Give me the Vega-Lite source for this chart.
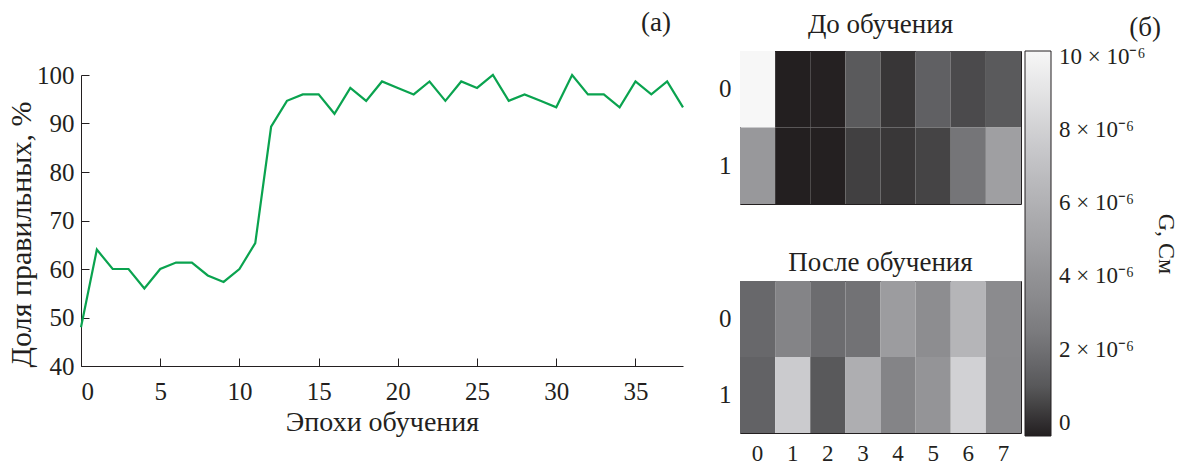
{
  "$schema": "https://vega.github.io/schema/vega-lite/v6.json",
  "autosize": {"type": "pad"},
  "padding": {"left": 6, "top": 9, "right": 2, "bottom": 0},
  "background": "white",
  "config": {
    "font": "Liberation Serif",
    "view": {"stroke": null},
    "axis": {
      "domainColor": "#231f20",
      "tickColor": "#231f20",
      "labelColor": "#231f20",
      "titleColor": "#231f20",
      "titleFontWeight": "normal",
      "grid": false,
      "labelFont": "Liberation Serif",
      "titleFont": "Liberation Serif"
    },
    "title": {"font": "Liberation Serif", "fontSize": 27, "fontWeight": "normal", "color": "#231f20"},
    "legend": {"labelFont": "Liberation Serif", "titleFont": "Liberation Serif"}
  },
  "title": {"text": "(б)", "anchor": "end", "frame": "bounds", "offset": -33, "dx": -17, "fontSize": 27},
  "datasets": {
    "acc": [
      {"epoch": 0, "acc": 48}, {"epoch": 1, "acc": 64}, {"epoch": 2, "acc": 60}, {"epoch": 3, "acc": 60},
      {"epoch": 4, "acc": 56}, {"epoch": 5, "acc": 60}, {"epoch": 6, "acc": 61.33}, {"epoch": 7, "acc": 61.33},
      {"epoch": 8, "acc": 58.67}, {"epoch": 9, "acc": 57.33}, {"epoch": 10, "acc": 60}, {"epoch": 11, "acc": 65.33},
      {"epoch": 12, "acc": 89.33}, {"epoch": 13, "acc": 94.67}, {"epoch": 14, "acc": 96}, {"epoch": 15, "acc": 96},
      {"epoch": 16, "acc": 92}, {"epoch": 17, "acc": 97.33}, {"epoch": 18, "acc": 94.67}, {"epoch": 19, "acc": 98.67},
      {"epoch": 20, "acc": 97.33}, {"epoch": 21, "acc": 96}, {"epoch": 22, "acc": 98.67}, {"epoch": 23, "acc": 94.67},
      {"epoch": 24, "acc": 98.67}, {"epoch": 25, "acc": 97.33}, {"epoch": 26, "acc": 100}, {"epoch": 27, "acc": 94.67},
      {"epoch": 28, "acc": 96}, {"epoch": 29, "acc": 94.67}, {"epoch": 30, "acc": 93.33}, {"epoch": 31, "acc": 100},
      {"epoch": 32, "acc": 96}, {"epoch": 33, "acc": 96}, {"epoch": 34, "acc": 93.33}, {"epoch": 35, "acc": 98.67},
      {"epoch": 36, "acc": 96}, {"epoch": 37, "acc": 98.67}, {"epoch": 38, "acc": 93.33}
    ],
    "before": [
      {"row": 0, "col": 0, "G": 10.16e-6}, {"row": 0, "col": 1, "G": -0.36e-6}, {"row": 0, "col": 2, "G": -0.32e-6},
      {"row": 0, "col": 3, "G": 1.09e-6}, {"row": 0, "col": 4, "G": 0.18e-6}, {"row": 0, "col": 5, "G": 1.34e-6},
      {"row": 0, "col": 6, "G": 0.65e-6}, {"row": 0, "col": 7, "G": 1.06e-6},
      {"row": 1, "col": 0, "G": 4.38e-6}, {"row": 1, "col": 1, "G": -0.36e-6}, {"row": 1, "col": 2, "G": -0.34e-6},
      {"row": 1, "col": 3, "G": 0.41e-6}, {"row": 1, "col": 4, "G": 0.2e-6}, {"row": 1, "col": 5, "G": 0.5e-6},
      {"row": 1, "col": 6, "G": 2.19e-6}, {"row": 1, "col": 7, "G": 4.84e-6}
    ],
    "after": [
      {"row": 0, "col": 0, "G": 1.66e-6}, {"row": 0, "col": 1, "G": 3.1e-6}, {"row": 0, "col": 2, "G": 1.83e-6},
      {"row": 0, "col": 3, "G": 2.07e-6}, {"row": 0, "col": 4, "G": 4.65e-6}, {"row": 0, "col": 5, "G": 3.68e-6},
      {"row": 0, "col": 6, "G": 6.28e-6}, {"row": 0, "col": 7, "G": 3.55e-6},
      {"row": 1, "col": 0, "G": 1.42e-6}, {"row": 1, "col": 1, "G": 7.7e-6}, {"row": 1, "col": 2, "G": 1.02e-6},
      {"row": 1, "col": 3, "G": 5.82e-6}, {"row": 1, "col": 4, "G": 3.1e-6}, {"row": 1, "col": 5, "G": 4.13e-6},
      {"row": 1, "col": 6, "G": 8.03e-6}, {"row": 1, "col": 7, "G": 3.43e-6}
    ]
  },
  "spacing": 30,
  "resolve": {"scale": {"color": "shared"}},
  "hconcat": [
    {
      "spacing": 11,
      "vconcat": [
        {
          "width": 602,
          "height": 1,
          "title": {"text": "(а)", "anchor": "end", "frame": "group", "offset": 14, "dx": -12, "fontSize": 27},
          "data": {"values": []},
          "mark": {"type": "text"},
          "encoding": {}
        },
        {
          "width": 602,
          "height": 291,
          "data": {"name": "acc"},
          "mark": {"type": "line", "color": "#0aa34f", "strokeWidth": 2.2},
          "encoding": {
            "x": {
              "field": "epoch", "type": "quantitative",
              "scale": {"domain": [0, 38], "nice": false, "zero": false},
              "axis": {"values": [0, 5, 10, 15, 20, 25, 30, 35], "title": "Эпохи обучения", "tickSize": -8,
                       "labelFontSize": 25, "titleFontSize": 28, "labelPadding": 21, "titlePadding": 4}
            },
            "y": {
              "field": "acc", "type": "quantitative",
              "scale": {"domain": [40, 100], "nice": false, "zero": false},
              "axis": {"values": [40, 50, 60, 70, 80, 90, 100], "title": "Доля правильных, %", "tickSize": -8,
                       "labelFontSize": 25, "titleFontSize": 30, "labelPadding": 15, "titlePadding": 0, "titleY": 159}
            }
          }
        }
      ]
    },
    {
      "spacing": 43,
      "vconcat": [
        {
          "width": 281,
          "height": 153,
          "title": {"text": "До обучения", "frame": "group", "offset": 12, "fontSize": 27},
          "view": {"stroke": "#231f20", "strokeWidth": 1},
          "data": {"name": "before"},
          "mark": {"type": "rect"},
          "encoding": {
            "x": {"field": "col", "type": "ordinal", "axis": null, "scale": {"paddingInner": 0, "paddingOuter": 0}},
            "y": {"field": "row", "type": "ordinal", "scale": {"paddingInner": 0, "paddingOuter": 0},
                  "axis": {"title": null, "ticks": false, "tickSize": 0, "domain": false, "labelAngle": 0, "labelPadding": 9, "labelFontSize": 25}},
            "color": {
              "field": "G", "type": "quantitative",
              "scale": {"domain": [-0.36e-6, 10.16e-6], "interpolate": "rgb",
                        "range": ["#231f20", "#575759", "#77777a", "#8c8c8f", "#a0a0a3", "#b4b4b7", "#c8c8cb", "#e0e0e2", "#f7f7f7"]},
              "legend": {
                "title": "G, См",
                "titleOrient": "right",
                "titleAngle": 270,
                "titleFontSize": 24,
                "titleFontWeight": "normal",
                "titleColor": "#231f20",
                "titleAnchor": "middle",
                "titlePadding": 9,
                "orient": "right",
                "offset": 3,
                "direction": "vertical",
                "gradientLength": 385,
                "gradientThickness": 26,
                "gradientStrokeColor": "#231f20",
                "gradientStrokeWidth": 1,
                "values": [0, 2e-6, 4e-6, 6e-6, 8e-6, 1e-5],
                "labelExpr": "datum.value == 0 ? '0' : format(datum.value * 1e6, '.0f') + ' × 10⁻⁶'",
                "labelFontSize": 23,
                "labelColor": "#231f20",
                "labelOffset": 8,
                "labelOverlap": false
              }
            }
          }
        },
        {
          "width": 281,
          "height": 152,
          "title": {"text": "После обучения", "frame": "group", "offset": 4, "fontSize": 27},
          "view": {"stroke": "#231f20", "strokeWidth": 1},
          "data": {"name": "after"},
          "mark": {"type": "rect"},
          "encoding": {
            "x": {"field": "col", "type": "ordinal", "scale": {"paddingInner": 0, "paddingOuter": 0},
                  "axis": {"title": null, "ticks": false, "tickSize": 0, "domain": false, "labelAngle": 0, "labelPadding": 9, "labelFontSize": 23}},
            "y": {"field": "row", "type": "ordinal", "scale": {"paddingInner": 0, "paddingOuter": 0},
                  "axis": {"title": null, "ticks": false, "tickSize": 0, "domain": false, "labelAngle": 0, "labelPadding": 9, "labelFontSize": 25}},
            "color": {"field": "G", "type": "quantitative"}
          }
        }
      ]
    }
  ]
}
